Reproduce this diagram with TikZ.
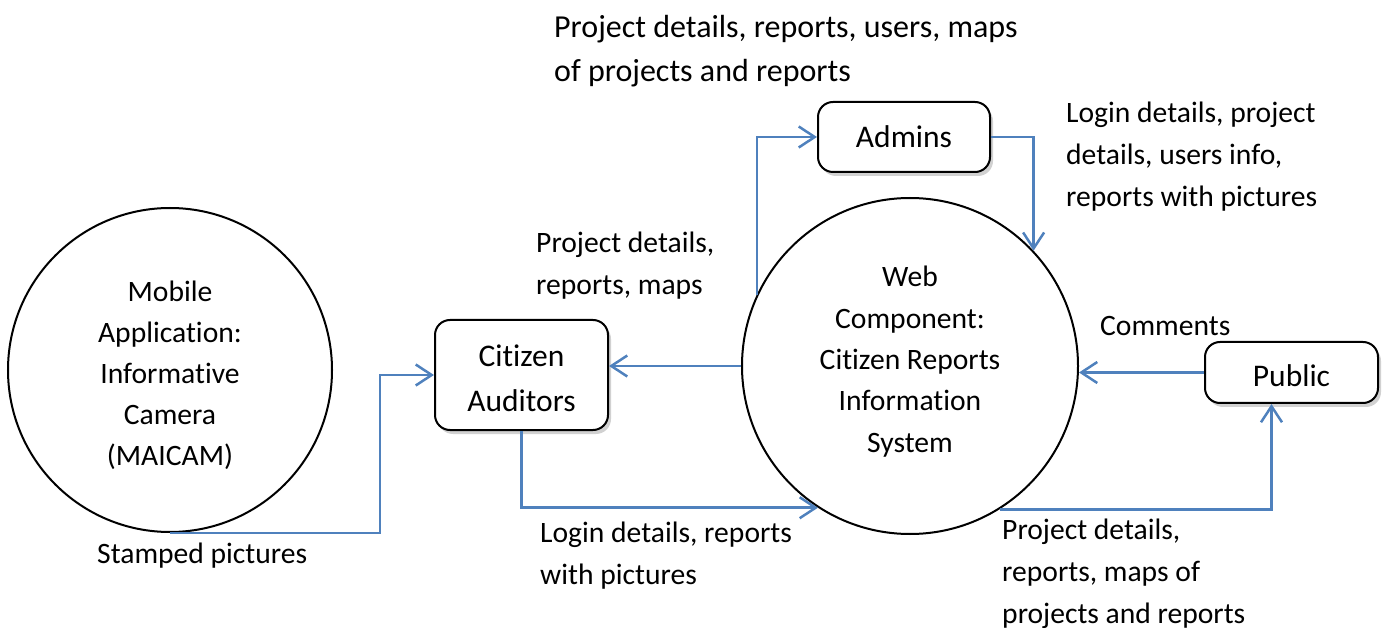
\documentclass[tikz,border=0pt]{standalone}
\usepackage{fontspec}
\setmainfont{Carlito}[Ligatures=NoCommon]
\usetikzlibrary{arrows.meta,shadows,calc}
\definecolor{flowblue}{RGB}{79,129,189}
\newcommand\tallstrut{\rule{0pt}{29pt}}
\begin{document}
\begin{tikzpicture}[x=1pt,y=-1pt,
  txt/.style={font=\fontsize{29.6}{42}\selectfont, inner sep=0pt},
  lbl/.style={txt, align=left, anchor=base west},
  entity/.style={txt, font=\fontsize{31.5}{45}\selectfont, draw=black, line width=2pt, rounded corners=15pt, fill=white,
    align=center, drop shadow={shadow xshift=3pt, shadow yshift=-4pt, opacity=0.18, fill=black}},
  proc/.style={draw=black, line width=2pt, circle, inner sep=0pt},
  flow/.style={draw=flowblue, line width=2.5pt,
    -{Straight Barb[length=16pt,width=21pt,line width=2.5pt]}}]
\useasboundingbox (0,0) rectangle (1385,628);
% processes
\node[proc, minimum size=324pt] (mobile) at (170,370) {};
\node[txt, align=center, anchor=base, font=\fontsize{29.6}{41}\selectfont] (mobiletxt) at (170,465)
  {Mobile\\Application:\\Informative\\Camera\\(MAICAM)};
\node[proc, minimum size=336pt] (web) at (910,366) {};
\node[txt, align=center, anchor=base, font=\fontsize{29.6}{41.3}\selectfont] (webtxt) at (910,452)
  {Web\\Component:\\Citizen Reports\\Information\\System};
% entities
\node[entity, minimum width=173pt, minimum height=110pt] (citizen) at (521.5,375) {\tallstrut Citizen\\Auditors};
\node[entity, minimum width=172pt, minimum height=70pt] (admins) at (904,137) {Admins};
\node[entity, minimum width=173pt, minimum height=61pt] (public) at (1291.5,372.5) {\tallstrut Public};
% flows
\draw[flow] (mobile.south) -- ++(210,0) |- (citizen.west);
\draw[flow] (web.west) -- (web.west -| citizen.east);
\draw[flow] (citizen.south) |- (web.237);
\draw[flow] (web.155) |- (admins.west);
\draw[flow] (admins.east) -| (web.43);
\draw[flow] (public.west) -- (public.west -| web.east);
\draw[flow] (web.302) -| ([xshift=-20pt]public.south);
% labels (anchored at the baseline of the last line)
\node[lbl, font=\fontsize{32}{44}\selectfont] (l1) at (554,82) {Project details, reports, users, maps\\of projects and reports};
\node[lbl] (l2) at (1066,207) {Login details, project\\details, users info,\\reports with pictures};
\node[lbl] (l3) at (536,295) {Project details,\\reports, maps};
\node[lbl] (l4) at (1100,336) {Comments};
\node[lbl] (l5) at (97,563) {Stamped pictures};
\node[lbl] (l6) at (540,584) {Login details, reports\\with pictures};
\node[lbl] (l7) at (1002,623) {Project details,\\reports, maps of\\projects and reports};
\end{tikzpicture}
\end{document}
